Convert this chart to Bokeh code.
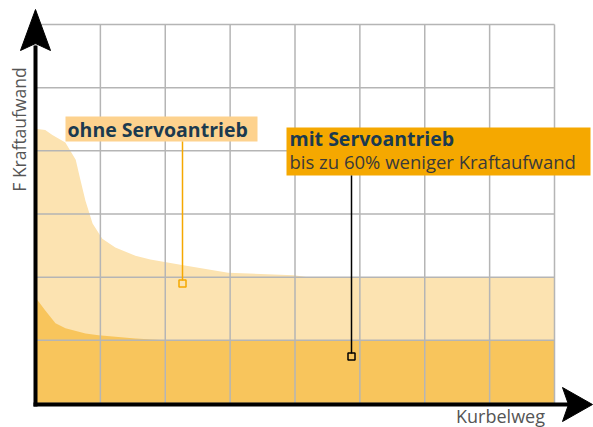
import numpy as np
from bokeh.plotting import figure
from bokeh.models import Range1d
from bokeh.core.properties import value
from bokeh.embed import file_html
from bokeh.resources import INLINE

# ---- data (grid units: 8 columns x 6 rows) ----
x_ohne = [0, 0.15, 0.26, 0.46, 0.62, 0.69, 0.77, 0.88, 1.03, 1.23, 1.54, 1.77, 2.28, 2.97, 3.98, 4.2, 8]
y_ohne = [4.35, 4.33, 4.25, 4.13, 3.86, 3.55, 3.21, 2.85, 2.61, 2.47, 2.34, 2.28, 2.19, 2.07, 2.03, 2.0, 2.0]
x_mit = [0, 0.03, 0.154, 0.308, 0.462, 0.771, 0.971, 1.54, 2.0, 8]
y_mit = [1.66, 1.64, 1.47, 1.27, 1.19, 1.11, 1.08, 1.03, 1.0, 1.0]
n_cols, n_rows = 8, 6
label_ohne = "ohne Servoantrieb"
label_mit = "mit Servoantrieb"
label_mit_sub = "bis zu 60% weniger Kraftaufwand"
x_label = "Kurbelweg"
y_label = "F Kraftaufwand"

# ---- page geometry (screen px -> data) ----
X0, X8 = 35, 554
Y0, Y6 = 403, 24
kx = (X8 - X0) / n_cols
ky = (Y0 - Y6) / n_rows
def dx(px): return (px - X0) / kx
def dy(py): return (Y0 - py) / ky

OFF = 0
W, H = 593, 427
p = figure(width=W, height=H, output_backend="svg", toolbar_location=None,
           x_range=Range1d(dx(OFF), dx(OFF + W)), y_range=Range1d(dy(OFF + H), dy(OFF)),
           min_border=0, min_border_left=0, min_border_right=0,
           min_border_top=0, min_border_bottom=0)
p.axis.visible = False
p.xgrid.visible = False
p.ygrid.visible = False
p.outline_line_color = None
p.background_fill_color = "white"
p.border_fill_color = "white"

LIGHT = "#FCE3B1"
DARK = "#F8C55C"
ORANGE = "#F5A800"
NAVY = "#1B3A4F"
GRID = "#B5B5B5"

p.varea(x=x_ohne, y1=0, y2=y_ohne, fill_color=LIGHT)
p.varea(x=x_mit, y1=0, y2=y_mit, fill_color=DARK)

# grid
xs = list(range(n_cols + 1))
ys = list(range(n_rows + 1))
p.segment(x0=xs, y0=[0] * len(xs), x1=xs, y1=[n_rows] * len(xs), line_color=GRID, line_width=1.5)
p.segment(x0=[0] * len(ys), y0=ys, x1=[n_cols] * len(ys), y1=ys, line_color=GRID, line_width=1.5)

# axes with arrows
p.line([dx(35), dx(35)], [dy(406), dy(45)], line_color="black", line_width=4)
p.line([dx(33), dx(570)], [dy(404), dy(404)], line_color="black", line_width=4)
p.patch([dx(35), dx(50), dx(35), dx(20)], [dy(9), dy(50), dy(43), dy(50)], fill_color="black", line_color="black", line_width=1)
p.patch([dx(592), dx(562), dx(568), dx(562)], [dy(404), dy(387), dy(404), dy(421)], fill_color="black", line_color="black", line_width=1)

# axis labels
p.text(x=[dx(18)], y=[dy(129)], text=[y_label], angle=np.pi / 2, text_align="center",
       text_baseline="middle", text_font=value("Open Sans"), text_font_size="17.5px", text_color="#555555")
p.text(x=[dx(500)], y=[dy(415)], text=[x_label], text_align="center",
       text_baseline="middle", text_font=value("Open Sans"), text_font_size="18px", text_color="#555555")

# ohne label
p.quad(left=[dx(65)], right=[dx(257)], top=[dy(116)], bottom=[dy(141)], fill_color="#FDD28E", line_color=None)
p.text(x=[dx(67)], y=[dy(128.5)], text=[label_ohne], text_align="left", text_baseline="middle",
       text_font=value("Open Sans"), text_font_style="bold", text_font_size="19.5px", text_color=NAVY)
p.line([dx(182), dx(182)], [dy(141), dy(280)], line_color=ORANGE, line_width=1.5)
p.scatter([dx(182)], [dy(283)], marker="square", size=7, fill_color=None, line_color=ORANGE, line_width=1.5)

# mit label
p.quad(left=[dx(286)], right=[dx(590)], top=[dy(127)], bottom=[dy(175)], fill_color=ORANGE, line_color=None)
p.text(x=[dx(289)], y=[dy(138)], text=[label_mit], text_align="left", text_baseline="middle",
       text_font=value("Open Sans"), text_font_style="bold", text_font_size="19.5px", text_color=NAVY)
p.text(x=[dx(289)], y=[dy(161)], text=[label_mit_sub], text_align="left", text_baseline="middle",
       text_font=value("Open Sans"), text_font_size="18.5px", text_color="#3A3A3A")
p.line([dx(351), dx(351)], [dy(175), dy(353)], line_color="black", line_width=1.5)
p.scatter([dx(351)], [dy(356)], marker="square", size=7, fill_color=None, line_color="black", line_width=1.5)

open("out.html", "w").write(file_html(p, INLINE))
